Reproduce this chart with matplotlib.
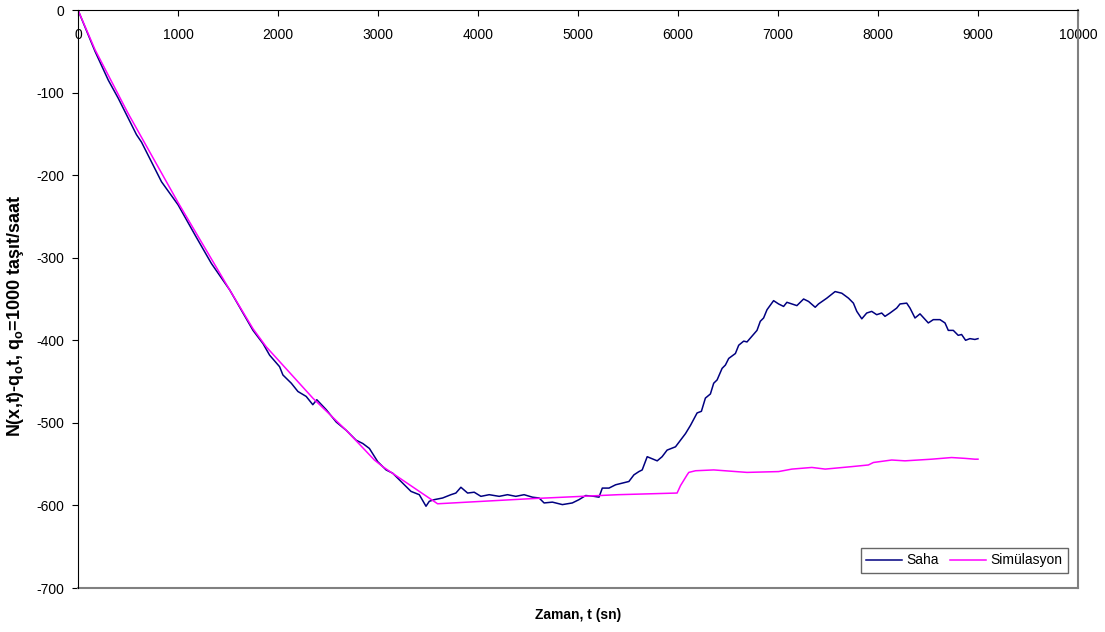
import matplotlib.pyplot as plt

plt.rcParams['font.family'] = ['Liberation Sans', 'DejaVu Sans']
plt.rcParams['mathtext.fontset'] = 'custom'
plt.rcParams['mathtext.bf'] = 'Liberation Sans:bold'
plt.rcParams['mathtext.rm'] = 'Liberation Sans'
plt.rcParams['axes.unicode_minus'] = False

# Saha (field) measurements: time [s] and N(x,t)-q0*t
saha_t = [0, 170, 303, 403, 585, 635, 835, 1001, 1168, 1334, 1517, 1750, 1850,
          1916, 2016, 2049, 2133, 2199, 2282, 2348, 2388, 2482, 2582, 2682,
          2781, 2848, 2914, 2997, 3081, 3147, 3247, 3330, 3413, 3480, 3513,
          3563, 3646, 3729, 3779, 3829, 3896, 3962, 4029, 4112, 4212, 4295,
          4378, 4461, 4544, 4611, 4661, 4744, 4844, 4943, 5010, 5077, 5160,
          5210, 5243, 5310, 5376, 5442, 5509, 5559, 5609, 5642, 5692, 5792,
          5841, 5891, 5975, 6025, 6075, 6125, 6191, 6234, 6274, 6324, 6357,
          6391, 6441, 6474, 6507, 6574, 6607, 6657, 6690, 6740, 6790, 6823,
          6856, 6890, 6956, 7006, 7056, 7089, 7139, 7189, 7256, 7306, 7372,
          7405, 7488, 7571, 7638, 7705, 7754, 7788, 7838, 7887, 7937, 7987,
          8037, 8070, 8120, 8187, 8220, 8287, 8320, 8370, 8420, 8503, 8553,
          8620, 8670, 8703, 8753, 8802, 8836, 8876, 8919, 8969, 9000]
saha_n = [0, -50, -85, -107, -151, -160, -208, -236, -272, -307, -339, -388, -404,
          -418, -432, -442, -452, -462, -468, -478, -472, -484, -499, -509,
          -521, -525, -531, -547, -557, -561, -573, -583, -587, -601, -595,
          -593, -591, -587, -585, -578, -585, -584, -589, -587, -589, -587,
          -589, -587, -590, -591, -597, -596, -599, -597, -593, -588, -589,
          -590, -579, -579, -575, -573, -571, -563, -559, -557, -541, -546,
          -541, -533, -529, -521, -513, -503, -488, -486, -470, -465, -452,
          -448, -434, -430, -422, -416, -406, -401, -402, -395, -388, -377,
          -373, -363, -352, -356, -359, -354, -356, -358, -350, -353, -360,
          -356, -349, -341, -343, -349, -355, -365, -374, -367, -365, -369,
          -367, -371, -367, -361, -356, -355, -361, -373, -368, -379, -375,
          -375, -379, -388, -388, -394, -393, -400, -398, -399, -398]

# Simulation results
sim_t = [0, 170, 500, 1000, 1517, 1750, 1883, 2348, 2682, 2964, 3047, 3413,
         3596, 4500, 5400, 5991, 6025, 6091, 6108, 6175, 6357, 6690, 7006,
         7139, 7339, 7472, 7738, 7904, 7954, 8137, 8270, 8536, 8736, 8869,
         8969, 9000]
sim_n = [0, -48, -125, -233, -339, -386, -408, -470, -509, -545, -553, -583,
         -598, -592, -587, -585, -576, -563, -560, -558, -557, -560, -559,
         -556, -554, -556, -553, -551, -548, -545, -546, -544, -542, -543,
         -544, -544]

fig = plt.figure(figsize=(11.05, 6.32), dpi=100)
ax = fig.add_axes([78 / 1105, 1 - 588 / 632, 1000 / 1105, 578 / 632])

ax.plot(saha_t, saha_n, color='#000080', lw=1.1, label='Saha')
ax.plot(sim_t, sim_n, color='#FF00FF', lw=1.1, label='Simülasyon')

ax.set_xlim(0, 10000)
ax.set_ylim(-700, 0)
ax.set_xticks(range(0, 10001, 1000))
ax.set_yticks(range(-700, 1, 100))

# x axis sits at y = 0 (top of plot)
ax.spines['bottom'].set_position(('data', 0))
ax.spines['bottom'].set_color('black')
ax.spines['left'].set_color('black')
ax.spines['top'].set_visible(False)
ax.spines['right'].set_color('#808080')
ax.spines['right'].set_linewidth(1.5)
ax.plot([0, 1], [0, 0], transform=ax.transAxes, color='#808080', lw=1.5,
        clip_on=False)

ax.tick_params(axis='x', direction='out', length=4, pad=9, labelsize=10)
ax.tick_params(axis='y', direction='out', length=4, pad=6, labelsize=10)

ax.set_xlabel('Zaman, t (sn)', fontsize=10, fontweight='bold')
ax.xaxis.set_label_coords(0.5, -0.035)
ax.set_ylabel(r'N(x,t)-q$_\mathbf{o}$t, q$_\mathbf{o}$=1000 taşıt/saat',
              fontsize=13, fontweight='bold')
ax.yaxis.set_label_coords(-0.052, 0.47)

leg = ax.legend(loc='lower right', bbox_to_anchor=(0.99, 0.026), ncol=2,
                fontsize=10, frameon=True, fancybox=False, borderaxespad=0,
                handlelength=2.6, columnspacing=0.8, handletextpad=0.3,
                borderpad=0.4)
leg.get_frame().set_edgecolor('#404040')
leg.get_frame().set_linewidth(1.0)

fig.savefig('out.png', dpi=100)
